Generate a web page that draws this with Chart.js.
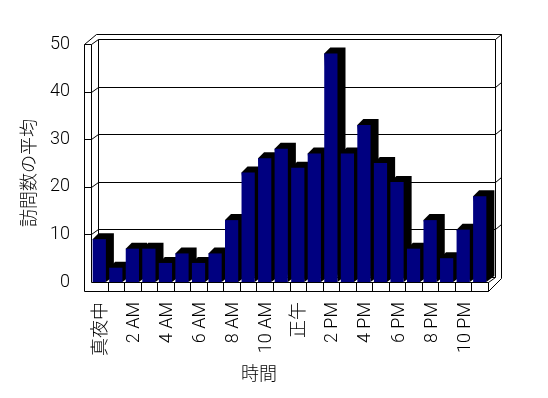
<!DOCTYPE html>
<html>
<head>
<meta charset="utf-8">
<style>
  html, body { margin: 0; padding: 0; background: #fff; }
  canvas { display: block; }
</style>
<script src="https://cdn.jsdelivr.net/npm/chart.js@4/dist/chart.umd.min.js"></script>
</head>
<body>
<canvas id="chart" width="548" height="398"></canvas>
<script>
var hourLabels = [
  '真夜中', '', '2 AM', '', '4 AM', '', '6 AM', '', '8 AM', '', '10 AM', '',
  '正午', '', '2 PM', '', '4 PM', '', '6 PM', '', '8 PM', '', '10 PM', ''
];
var visitAverages = [9, 3, 7, 7, 4, 6, 4, 6, 13, 23, 26, 28, 24, 27, 48, 27, 33, 25, 21, 7, 13, 5, 11, 18];
var yTicks = [0, 10, 20, 30, 40, 50];
var xTitle = '時間';
var yTitle = '訪問数の平均';

var FONT = 'Roboto, "Noto Sans CJK JP", sans-serif';
var FONT_SIZE = 18;
var FONT_WEIGHT = '300';
var NAVY = '#000080';
var INK = '#000000';

// how far the back wall and the bar sides sit from the front plane
var WALL_X = 7, WALL_Y = 5;
var BAR_X = 8, BAR_Y = 6;

function crisp(v) { return Math.round(v) + 0.5; }

function line(ctx, pts) {
  ctx.beginPath();
  pts.forEach(function(p, i) {
    if (i === 0) ctx.moveTo(crisp(p[0]), crisp(p[1]));
    else ctx.lineTo(crisp(p[0]), crisp(p[1]));
  });
  ctx.stroke();
}

var boxPlugin = {
  id: 'box3d',
  beforeDatasetsDraw: function(chart) {
    var ctx = chart.ctx, a = chart.chartArea, y = chart.scales.y, x = chart.scales.x;
    var outerL = a.left - WALL_X, backL = a.left + WALL_X;
    var backR = a.right + WALL_X, outerR = backR + 6;
    var top = a.top, bot = a.bottom, floor = bot + 9;

    ctx.save();
    ctx.strokeStyle = INK;
    ctx.lineWidth = 1;

    // walls
    line(ctx, [[outerL, top], [outerL, floor], [a.right, floor]]);
    line(ctx, [[a.left, top], [a.left, bot], [a.right, bot]]);
    line(ctx, [[outerL, top], [a.left, top]]);
    line(ctx, [[outerL, top], [backL - 2, top - WALL_Y * 2], [outerR, top - WALL_Y * 2], [outerR, bot - 4]]);
    line(ctx, [[a.left, top], [backL, top - WALL_Y], [backR, top - WALL_Y], [backR, bot - WALL_Y]]);
    line(ctx, [[backL, top - WALL_Y], [backL, bot - WALL_Y], [backR, bot - WALL_Y]]);
    line(ctx, [[backR, top - WALL_Y], [outerR, top - WALL_Y * 2]]);
    line(ctx, [[a.right, floor], [outerR, bot - 4]]);
    line(ctx, [[a.right, bot], [backR, bot - WALL_Y]]);

    // gridlines wrap round the walls
    yTicks.forEach(function(v) {
      if (v === 0 || v === yTicks[yTicks.length - 1]) return;
      var py = y.getPixelForValue(v);
      line(ctx, [[outerL, py], [a.left, py], [backL, py - WALL_Y], [backR, py - WALL_Y], [outerR, py - WALL_Y * 2]]);
    });

    // floor ticks between the categories
    var step = (a.right - a.left) / hourLabels.length;
    for (var i = 1; i <= hourLabels.length; i++) {
      var px = x.getPixelForValue(i - 1) + step / 2;
      line(ctx, [[px, bot], [px, floor]]);
    }

    // black side and top of each bar
    ctx.fillStyle = INK;
    chart.getDatasetMeta(0).data.forEach(function(bar) {
      var half = bar.width / 2;
      var l = bar.x - half, r = bar.x + half;
      ctx.beginPath();
      ctx.moveTo(l, bar.y);
      ctx.lineTo(l + BAR_X * 0.75, bar.y - BAR_Y);
      ctx.lineTo(r + BAR_X, bar.y - BAR_Y);
      ctx.lineTo(r + BAR_X, bar.base - BAR_Y);
      ctx.lineTo(r, bar.base);
      ctx.closePath();
      ctx.fill();
    });
    ctx.restore();
  },
  afterDraw: function(chart) {
    var ctx = chart.ctx;
    ctx.save();
    ctx.fillStyle = INK;
    ctx.font = FONT_WEIGHT + ' ' + FONT_SIZE + 'px ' + FONT;
    ctx.textAlign = 'center';
    ctx.textBaseline = 'middle';
    ctx.fillText(xTitle, 259, 375);
    ctx.translate(30, 173);
    ctx.rotate(-Math.PI / 2);
    ctx.fillText(yTitle, 0, 0);
    ctx.restore();
  }
};

new Chart(document.getElementById('chart'), {
  type: 'bar',
  data: {
    labels: hourLabels,
    datasets: [{
      data: visitAverages,
      backgroundColor: NAVY,
      borderWidth: 0,
      barPercentage: 0.8,
      categoryPercentage: 1
    }]
  },
  options: {
    responsive: false,
    devicePixelRatio: 1,
    animation: false,
    layout: { padding: { top: 44, right: 60, bottom: 0, left: 0 } },
    plugins: { legend: { display: false }, tooltip: { enabled: false } },
    scales: {
      x: {
        grid: { display: false, drawTicks: false },
        border: { display: false },
        afterFit: function(s) { s.height = 116; },
        ticks: {
          autoSkip: false,
          minRotation: 90,
          maxRotation: 90,
          padding: 20,
          labelOffset: 2,
          color: INK,
          font: { family: FONT, size: FONT_SIZE, weight: FONT_WEIGHT }
        }
      },
      y: {
        min: 0,
        max: 50,
        grid: { display: false, drawTicks: false },
        border: { display: false },
        afterFit: function(s) { s.width = 91; },
        afterBuildTicks: function(s) {
          s.ticks = yTicks.map(function(v) { return { value: v }; });
        },
        ticks: {
          padding: 21,
          color: INK,
          font: { family: FONT, size: FONT_SIZE, weight: FONT_WEIGHT }
        }
      }
    }
  },
  plugins: [boxPlugin]
});
</script>
</body>
</html>
